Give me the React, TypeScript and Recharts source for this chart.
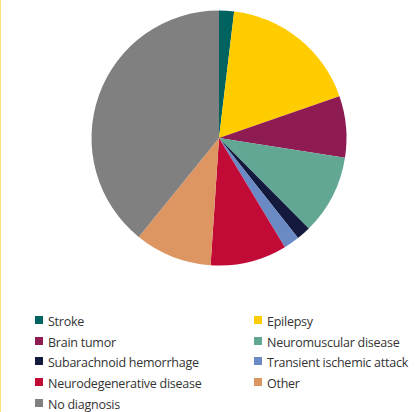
import { PieChart, Pie, Cell, Legend } from "recharts";

const CATEGORIES = [
  "Stroke",
  "Epilepsy",
  "Brain tumor",
  "Neuromuscular disease",
  "Subarachnoid hemorrhage",
  "Transient ischemic attack",
  "Neurodegenerative disease",
  "Other",
  "No diagnosis",
];
const SHARES = [1.9, 17.8, 7.8, 10.1, 1.8, 2.0, 9.7, 9.8, 39.2];
const COLORS = [
  "#00635f", "#ffcc00", "#8e1b52", "#62a793", "#141a3e",
  "#6a8ac6", "#c20a36", "#dd9662", "#808080",
];

const data = CATEGORIES.map((name, i) => ({ name, value: SHARES[i] }));

function LegendGrid() {
  return (
    <div
      style={{
        display: "grid",
        gridTemplateColumns: "219px 160px",
        gridAutoRows: "20.8px",
        fontFamily: "'Open Sans', sans-serif",
        fontSize: 12.5,
        letterSpacing: "-0.25px",
        color: "#333",
      }}
    >
      {data.map((d, i) => (
        <div key={d.name} style={{ display: "flex", alignItems: "center", whiteSpace: "nowrap" }}>
          <span
            style={{
              width: 8,
              height: 8,
              background: COLORS[i],
              marginRight: 5,
              marginTop: -3,
              flexShrink: 0,
            }}
          />
          {d.name}
        </div>
      ))}
    </div>
  );
}

export default function App() {
  return (
    <div
      style={{
        position: "fixed",
        top: 0,
        left: 0,
        width: 419,
        height: 412,
        background: "#fff",
        overflow: "hidden",
      }}
    >
      <div style={{ position: "absolute", left: 0, top: 0, width: 1, height: 412, background: "#ffe27a" }} />
      <PieChart width={419} height={412} margin={{ top: 0, right: 0, bottom: 0, left: 0 }}>
        <Pie
          data={data}
          dataKey="value"
          nameKey="name"
          cx={219}
          cy={138}
          outerRadius={127.5}
          startAngle={90}
          endAngle={-270}
          stroke="none"
          isAnimationActive={false}
        >
          {data.map((_, i) => (
            <Cell key={i} fill={COLORS[i]} />
          ))}
        </Pie>
        <Legend
          content={<LegendGrid />}
          wrapperStyle={{ position: "absolute", left: 35, top: 311, width: 384 }}
        />
      </PieChart>
    </div>
  );
}
